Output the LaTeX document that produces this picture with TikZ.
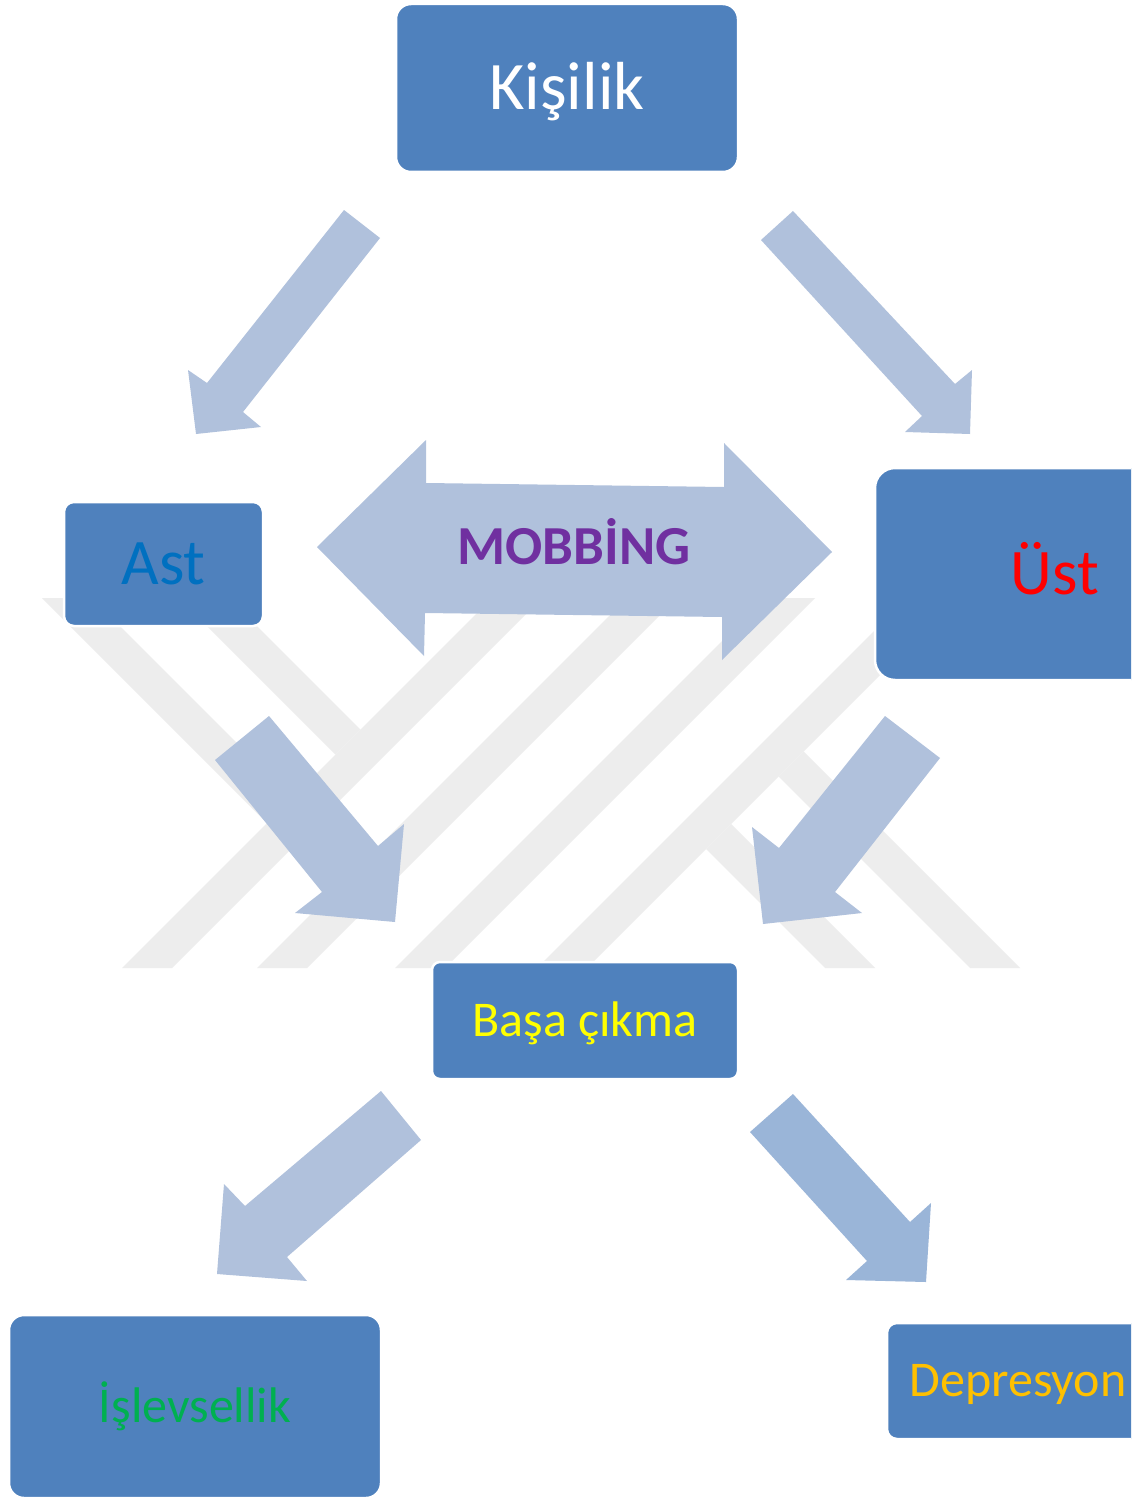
\documentclass[tikz,border=0pt]{standalone}
\usepackage{fontspec}
\setmainfont{Carlito}
\definecolor{boxblue}{HTML}{4F81BD}
\definecolor{arrowblue}{HTML}{B0C1DC}
\definecolor{arrowbluetwo}{HTML}{9AB5D8}
\definecolor{wmgray}{HTML}{EDEDED}
\definecolor{astblue}{HTML}{0070C0}
\definecolor{ustred}{HTML}{FF0000}
\definecolor{mobpurple}{HTML}{7030A0}
\definecolor{basayellow}{HTML}{FFFF00}
\definecolor{islgreen}{HTML}{00B050}
\definecolor{depgold}{HTML}{FFC000}
\begin{document}
\begin{tikzpicture}[x=1pt,y=-1pt,
  box/.style={rectangle, fill=boxblue, draw=white, line width=2.5pt, inner sep=0pt, text depth=0pt},
  blockarrow/.style={fill=arrowblue, draw=none},
  band/.style={fill=wmgray, draw=none}]
\useasboundingbox (0,0) rectangle (1137,1498);
\fill[white] (0,0) rectangle (1137,1498);
\clip (0,0) rectangle (1131,1498);
% watermark bands
\foreach \b in {122,257,395,537}{
  \fill[band] (\b,968) -- (\b+50,968) -- (\b+420,598) -- (\b+370,598) -- cycle;
}
\fill[band] (42,598) -- (92,598) -- (292,798) -- (267,823) -- cycle;
\fill[band] (179,598) -- (229,598) -- (360.5,729.5) -- (335.5,754.5) -- cycle;
\fill[band] (778.5,776.5) -- (803.5,751.5) -- (1020,968) -- (970,968) -- cycle;
\fill[band] (706,849) -- (731,824) -- (875,968) -- (825,968) -- cycle;
% block arrows
\fill[blockarrow] (344,210) -- (380,238) -- (243,412) -- (261,427) -- (196,434) -- (188,370) -- (207,383) -- cycle;
\fill[blockarrow] (793,211) -- (761,240) -- (922,416) -- (905,432) -- (970,434) -- (972,370) -- (955,384) -- cycle;
\fill[blockarrow] (269,716) -- (215,760) -- (322,892) -- (295,913) -- (395,922) -- (404,824) -- (378,846) -- cycle;
\fill[blockarrow] (885,716) -- (940,758) -- (835,892) -- (862,913) -- (763,924) -- (752,827) -- (779,848) -- cycle;
\fill[blockarrow] (381,1091) -- (421,1140) -- (287,1257) -- (307,1281) -- (217,1274) -- (224,1184) -- (245,1206) -- cycle;
\fill[blockarrow, fill=arrowbluetwo] (793,1094) -- (750,1132) -- (867,1261) -- (846,1280) -- (926,1282) -- (931,1203) -- (910,1222) -- cycle;
% mobbing double arrow
\fill[blockarrow] (317,547) -- (426,440) -- (426,483) -- (724,487) -- (724,443) -- (832,552) -- (722,660) -- (722,617) -- (425,613) -- (424,656) -- cycle;
\node[text=mobpurple, inner sep=0pt, text height=35pt, text depth=0pt, font=\fontsize{55}{66}\selectfont\bfseries] (mobbing) at (574,546.5) {MOBBİNG};
% boxes
\node[box, rounded corners=15pt, minimum width=342pt, minimum height=168pt, text=white, text height=43pt, font=\fontsize{68}{80}\selectfont] (kisilik) at (567,88) {Kişilik};
\node[box, rounded corners=10pt, minimum width=199pt, minimum height=124pt, text=astblue, text height=41pt, font=\fontsize{65}{78}\selectfont] (ast) at (163.5,564) {Ast};
\node[box, rounded corners=20pt, minimum width=360pt, minimum height=212pt, text=ustred, text height=41pt, font=\fontsize{65}{78}\selectfont] (ust) at (1055,574) {Üst};
\node[box, rounded corners=8pt, minimum width=306pt, minimum height=117pt, text=basayellow, text height=31.5pt, font=\fontsize{50}{60}\selectfont] (basa) at (585,1020.5) {Başa çıkma};
\node[box, rounded corners=15pt, minimum width=372pt, minimum height=183pt, text=islgreen, text height=31.5pt, font=\fontsize{50}{60}\selectfont] (islev) at (195,1406.5) {İşlevsellik};
\node[box, rounded corners=10pt, minimum width=262pt, minimum height=116pt, text=depgold, text height=31.5pt, font=\fontsize{50}{60}\selectfont] (depres) at (1018,1381) {Depresyon};
\end{tikzpicture}
\end{document}
